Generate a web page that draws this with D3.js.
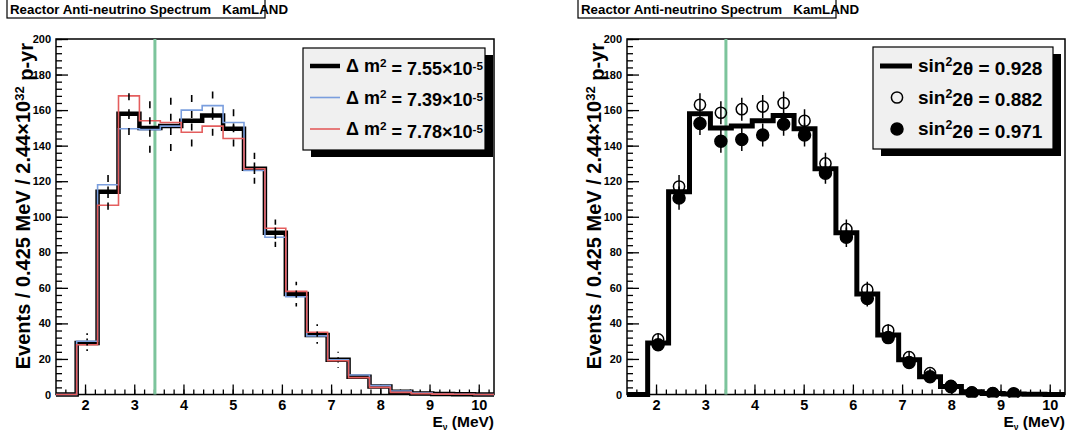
<!DOCTYPE html>
<html>
<head>
<meta charset="utf-8">
<script src="https://cdn.jsdelivr.net/npm/d3@7"></script>
<style>
	body { margin: 0; background: #fff; }
	svg { font-family: "Liberation Sans", Arial, sans-serif; font-weight: bold; }
</style>
</head>
<body>
<svg id="chart" width="1067" height="436"></svg>
<script>
// binning : 0.425 MeV bins starting at 1.83 MeV
let binStart = 1.83;
let binWidth = 0.425;
let xRange = [1.41, 10.31];
let cutEnergy = 3.42;

// expected spectra for the three dm2 values (events per bin)
let dm755 = [29, 114, 158, 150, 151, 154, 157, 149.5, 127, 91, 56.5, 33.5, 19.5, 10, 4.5, 1.5, 0.6, 0.3, 0.1, 0];
let dm739 = [30, 118, 149.5, 149, 151, 160, 162.5, 153, 126, 88.5, 55, 33, 19.5, 11, 5, 2, 0.8, 0.3, 0.1, 0];
let dm778 = [28, 106.5, 168, 154, 153, 147.5, 151, 144, 127, 93.5, 58, 35, 19, 9.5, 4, 1.2, 0.5, 0.2, 0.1, 0];

// data points for the two sin^2 2theta values
let open882 = [31, 117, 163, 158.5, 160.5, 162, 164, 154, 130, 93, 59, 36, 21, 12, 4.8, 1.2, 0.6, 0.3];
let full971 = [28, 110.5, 152.5, 142.5, 143.5, 146, 152, 146, 124.5, 88.5, 54, 32, 18, 10, 4.4, 0.8, 0.5, 0.4];
let errOpen = [3.5, 6.5, 6.5, 6.5, 6.5, 6.5, 6.5, 6.5, 6, 5.5, 4.5, 3.5, 3, 2.5, 2, 1.2, 0.8, 0.6];
let errFull = [3.5, 6.5, 6.5, 6.5, 6.5, 6.5, 6.5, 6.5, 6, 5.5, 4.5, 3.5, 3, 2.5, 2, 1.2, 0.8, 0.6];

let xMajor = [2, 3, 4, 5, 6, 7, 8, 9, 10];
let yMajor = [0, 20, 40, 60, 80, 100, 120, 140, 160, 180, 200];

let svg = d3.select("#chart");

function superText(sel, parts) {
	// parts : [text, "sup"|"sub"|null, dy]
	parts.forEach(p => {
		let t = sel.append("tspan").text(p[0]);
		if (p[1] == "sup") t.attr("dy", "-0.45em").attr("font-size", "0.65em");
		if (p[1] == "sub") t.attr("dy", "0.3em").attr("font-size", "0.55em");
		if (p[2]) t.attr("dy", p[2]);
	});
}

function panel(left) {
	let margin = {top: 39, bottom: 41.5};
	let width = 438;
	let height = 436;
	let g = svg.append("g");
	let x = d3.scaleLinear()
		.domain(xRange)
		.range([left, left + width]);
	let y = d3.scaleLinear()
		.domain([0, 200])
		.range([height - margin.bottom, margin.top]);

	// title box
	g.append("rect")
		.attr("x", left - 49)
		.attr("y", -2)
		.attr("width", 258)
		.attr("height", 20)
		.attr("fill", "#fff")
		.attr("stroke", "#000")
		.attr("stroke-width", 1.2);
	g.append("text")
		.attr("x", left - 46)
		.attr("y", 13.5)
		.attr("font-size", 13.3)
		.attr("xml:space", "preserve")
		.text("Reactor Anti-neutrino Spectrum   KamLAND");

	let clipId = "clip" + left;
	g.append("clipPath").attr("id", clipId)
		.append("rect")
		.attr("x", left).attr("y", margin.top)
		.attr("width", width).attr("height", y(0) - margin.top + 3);

	// axes, ROOT style : ticks inside
	let minorX = d3.range(1.6, 10.31, 0.2).map(v => +v.toFixed(1));
	let minorY = d3.range(0, 201, 4);
	g.append("g")
		.attr("transform", `translate(0,${y(0)})`)
		.call(d3.axisBottom(x).tickValues(minorX).tickSize(-5).tickFormat(""))
		.call(a => a.select(".domain").remove());
	g.append("g")
		.attr("transform", `translate(0,${y(0)})`)
		.call(d3.axisBottom(x).tickValues(xMajor).tickSize(-10).tickPadding(5).tickFormat(d3.format("d")))
		.call(a => a.select(".domain").remove())
		.call(a => a.selectAll("text").attr("font-size", 14.5).attr("font-family", null).attr("font-weight", "bold"));
	g.append("g")
		.attr("transform", `translate(${left},0)`)
		.call(d3.axisLeft(y).tickValues(minorY).tickSize(-6).tickFormat(""))
		.call(a => a.select(".domain").remove());
	g.append("g")
		.attr("transform", `translate(${left},0)`)
		.call(d3.axisLeft(y).tickValues(yMajor).tickSize(-12).tickPadding(5).tickFormat(d3.format("d")))
		.call(a => a.select(".domain").remove())
		.call(a => a.selectAll("text").attr("font-size", 11).attr("font-family", null).attr("font-weight", "bold"));
	g.selectAll(".tick line").attr("stroke-width", 1.3);

	// frame
	g.append("rect")
		.attr("x", left)
		.attr("y", margin.top)
		.attr("width", width)
		.attr("height", y(0) - margin.top)
		.attr("fill", "none")
		.attr("stroke", "#000")
		.attr("stroke-width", 1.5);

	// axis titles
	let yl = g.append("text")
		.attr("transform", `translate(${left - 26},${margin.top + 4}) rotate(-90)`)
		.attr("text-anchor", "end")
		.attr("font-size", 20);
	superText(yl, [["Events / 0.425 MeV / 2.44\u00d710"], ["32", "sup"], [" p-yr", null, "0.45em"]]);
	let xl = g.append("text")
		.attr("x", left + width)
		.attr("y", 427)
		.attr("text-anchor", "end")
		.attr("font-size", 15.5);
	superText(xl, [["E"], ["\u03bd", "sub"], [" (MeV)", null, "-0.18em"]]);

	// cut line
	g.append("line")
		.attr("x1", x(cutEnergy)).attr("x2", x(cutEnergy))
		.attr("y1", margin.top).attr("y2", y(0))
		.attr("stroke", "#7cc49c")
		.attr("stroke-width", 3);

	let plot = g.append("g").attr("clip-path", `url(#${clipId})`);
	return {g, plot, x, y};
}

function histPath(x, y, vals) {
	let pts = [[xRange[0], 0]];
	vals.forEach((v, i) => {
		let e = binStart + i * binWidth;
		pts.push([e, pts[pts.length - 1][1]]);
		pts.push([e, v]);
	});
	let last = binStart + vals.length * binWidth;
	pts.push([last, pts[pts.length - 1][1]]);
	pts.push([last, 0]);
	pts.push([xRange[1] + 1, 0]);
	return d3.line().x(d => x(d[0])).y(d => y(d[1]))(pts);
}

function center(i) { return binStart + (i + 0.5) * binWidth; }

// left panel
let L = panel(56);
L.plot.append("path").attr("d", histPath(L.x, L.y, dm755))
	.attr("fill", "none").attr("stroke", "#000").attr("stroke-width", 4.5);
L.plot.append("path").attr("d", histPath(L.x, L.y, dm739))
	.attr("fill", "none").attr("stroke", "#7a9ede").attr("stroke-width", 1.6);
L.plot.append("path").attr("d", histPath(L.x, L.y, dm778))
	.attr("fill", "none").attr("stroke", "#e45e5e").attr("stroke-width", 1.6);
// error bars with a gap where the marker would be
[[open882, errOpen], [full971, errFull]].forEach(([vals, errs]) => {
	let gap = 4.5;
	vals.forEach((v, i) => {
		let cx = L.x(center(i)), cy = L.y(v);
		let top = L.y(v + errs[i]), bot = L.y(v - errs[i]);
		if (cy - top > gap)
			L.plot.append("line").attr("x1", cx).attr("x2", cx).attr("y1", top).attr("y2", cy - gap)
				.attr("stroke", "#000").attr("stroke-width", 1.6);
		if (bot - cy > gap)
			L.plot.append("line").attr("x1", cx).attr("x2", cx).attr("y1", cy + gap).attr("y2", bot)
				.attr("stroke", "#000").attr("stroke-width", 1.6);
	});
});

// right panel
let R = panel(627);
R.plot.append("path").attr("d", histPath(R.x, R.y, dm755))
	.attr("fill", "none").attr("stroke", "#000").attr("stroke-width", 5);
[[open882, errOpen, false], [full971, errFull, true]].forEach(([vals, errs, filled]) => {
	R.plot.append("g").selectAll("line")
		.data(vals)
		.join("line")
		.attr("x1", (d, i) => R.x(center(i)))
		.attr("x2", (d, i) => R.x(center(i)))
		.attr("y1", (d, i) => R.y(d + errs[i]))
		.attr("y2", (d, i) => R.y(d - errs[i]))
		.attr("stroke", "#000")
		.attr("stroke-width", 1.5);
	R.plot.append("g").selectAll("circle")
		.data(vals)
		.join("circle")
		.attr("cx", (d, i) => R.x(center(i)))
		.attr("cy", d => R.y(d))
		.attr("r", filled ? 6 : 5.6)
		.attr("fill", filled ? "#000" : "none")
		.attr("stroke", "#000")
		.attr("stroke-width", 1.5);
});

// legends
function legendBox(g, bx, by, bw, bh) {
	g.append("rect")
		.attr("x", bx + 8).attr("y", by + 7)
		.attr("width", bw).attr("height", bh)
		.attr("fill", "#000");
	g.append("rect")
		.attr("x", bx).attr("y", by)
		.attr("width", bw).attr("height", bh)
		.attr("fill", "#f0f0f0")
		.attr("stroke", "#000")
		.attr("stroke-width", 1.2);
}

let legendL = [
	{val: "7.55", color: "#000", w: 4.5},
	{val: "7.39", color: "#7a9ede", w: 1.6},
	{val: "7.78", color: "#e45e5e", w: 1.6}
];
legendBox(L.g, 303, 48, 182, 102);
legendL.forEach((d, k) => {
	let yy = 66 + k * 31.5;
	L.g.append("line")
		.attr("x1", 310).attr("x2", 340)
		.attr("y1", yy).attr("y2", yy)
		.attr("stroke", d.color).attr("stroke-width", d.w);
	let t = L.g.append("text")
		.attr("x", 346)
		.attr("y", yy + 6)
		.attr("font-size", 18);
	superText(t, [["\u0394 m"], ["2", "sup"], [" = " + d.val + "\u00d710", null, "0.45em"], ["-5", "sup"]]);
});

let legendR = [
	{val: "0.928", kind: "line"},
	{val: "0.882", kind: "open"},
	{val: "0.971", kind: "full"}
];
legendBox(R.g, 873, 47, 180, 102);
legendR.forEach((d, k) => {
	let yy = 66 + k * 31.5;
	if (d.kind == "line")
		R.g.append("line")
			.attr("x1", 880).attr("x2", 912)
			.attr("y1", yy).attr("y2", yy)
			.attr("stroke", "#000").attr("stroke-width", 5);
	else
		R.g.append("circle")
			.attr("cx", 897).attr("cy", yy)
			.attr("r", d.kind == "full" ? 6 : 5.6)
			.attr("fill", d.kind == "full" ? "#000" : "none")
			.attr("stroke", "#000").attr("stroke-width", 1.5);
	let t = R.g.append("text")
		.attr("x", 918)
		.attr("y", yy + 6)
		.attr("font-size", 19);
	superText(t, [["sin"], ["2", "sup"], ["2\u03b8 = " + d.val, null, "0.45em"]]);
});
</script>
</body>
</html>
